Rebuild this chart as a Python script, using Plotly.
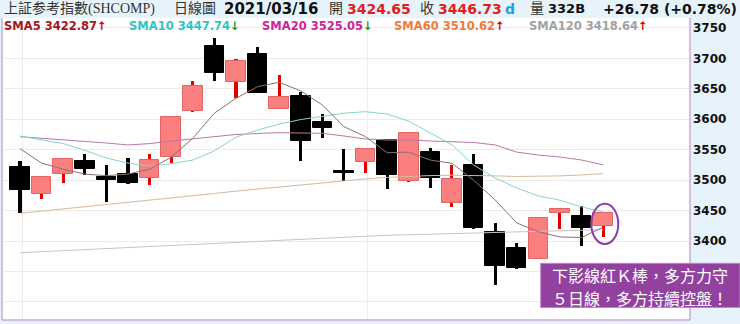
import plotly.graph_objects as go

# ---------------- data ----------------
idx = list(range(28))
opens = [3521, 3477, 3510, 3531.5, 3505, 3509.6, 3504, 3538.6, 3613, 3721,
         3661.8, 3707, 3617.4, 3638.8, 3595.5, 3515.5, 3530.3, 3566.5, 3499, 3546.3,
         3463, 3525, 3414.3, 3389, 3370, 3446.5, 3441, 3424.65]
highs = [3531.5, 3507, 3536.4, 3543.5, 3525, 3536.4, 3542.5, 3604.3, 3663.5, 3733,
         3699.6, 3718, 3672.8, 3645.4, 3608.2, 3550.7, 3552.3, 3567, 3578, 3552.3,
         3525, 3543, 3429, 3396, 3437.3, 3453.7, 3457.5, 3448]
lows = [3445.5, 3469, 3495, 3508, 3464.6, 3493, 3491.5, 3528.7, 3612, 3663.5,
        3634.4, 3643, 3617, 3531.5, 3568.8, 3499, 3512.2, 3485, 3497.5, 3486.6,
        3456.4, 3420, 3327.7, 3354, 3370, 3419.2, 3392.3, 3406]
closes = [3483, 3505.7, 3534.3, 3517.8, 3501, 3495.8, 3533, 3603, 3654.7, 3675.5,
          3695.8, 3643.7, 3636.6, 3564.3, 3585.2, 3511, 3551.7, 3508, 3577, 3504,
          3502, 3421, 3359.4, 3356, 3437.3, 3453, 3421, 3446.73]

sma5 = [3551.7, 3528, 3518, 3510, 3507.3, 3510, 3518, 3537.5, 3568.8, 3610,
        3634.5, 3653.6, 3660.8, 3646.5, 3623.5, 3587.8, 3571.4, 3545, 3546, 3533,
        3527.6, 3500, 3467.4, 3429.6, 3415.3, 3406.6, 3405.8, 3422.87]
sma10 = [3572.5, 3566, 3560, 3549, 3536.4, 3528, 3523, 3527, 3533, 3548,
         3570.7, 3582.4, 3592, 3599.6, 3604.5, 3610, 3612.5, 3608.6, 3597, 3577.5,
         3558, 3525, 3503.5, 3487, 3474, 3467, 3456, 3447.74]
sma20 = [3571.4, 3569, 3567, 3564.3, 3561, 3557.8, 3560, 3564.3, 3567.6, 3571.7,
         3575, 3576.6, 3578, 3577.5, 3577, 3572.5, 3567.6, 3566, 3566, 3564.3,
         3562.7, 3561.9, 3557.8, 3546, 3541.3, 3538, 3533, 3525.05]
sma60 = [3445.5, 3449, 3452.5, 3456, 3459.5, 3463, 3466.5, 3470, 3474, 3478,
         3482, 3485.5, 3489, 3492.5, 3496, 3499, 3502, 3504.5, 3506.5, 3507.5,
         3508, 3508, 3507, 3506, 3506, 3507, 3508.5, 3510.62]
sma120 = [3380.8, 3382.5, 3384.3, 3386, 3387.7, 3389.5, 3391.2, 3392.9, 3394.6, 3396.4,
          3398.1, 3399.8, 3401.6, 3403.3, 3405, 3406.8, 3408.5, 3409.4, 3410.3, 3411.2,
          3412.2, 3413.1, 3414, 3414.9, 3415.8, 3416.8, 3417.7, 3418.64]

ytick_vals = [3300, 3350, 3400, 3450, 3500, 3550, 3600, 3650, 3700, 3750]
ytick_text = ["", "", "3400", "3450", "3500", "3550", "3600", "3650", "3700", "3750"]

comment_lines = ["下影線紅Ｋ棒，多方力守", "５日線，多方持續控盤！"]

# ---------------- figure ----------------
W, H = 740, 324
ML, MR, MT, MB = 2, 50, 18, 4
PW, PH = W - ML - MR, H - MT - MB


def px(x):
    return (x - ML) / PW


def py(y):
    return (H - MB - y) / PH


up = [c >= o for o, c in zip(opens, closes)]
wick_colors = ["#E00000" if u else "#000000" for u in up]
body_colors = ["#FA7F7F" if u else "#000000" for u in up]
body_lines = ["#E46464" if u else "#000000" for u in up]

fig = go.Figure()
fig.add_bar(x=idx, y=[h - l for h, l in zip(highs, lows)], base=lows, width=0.14,
            marker=dict(color=wick_colors, line=dict(width=0)), hoverinfo="skip")
fig.add_bar(x=idx, y=[abs(c - o) for o, c in zip(opens, closes)],
            base=[min(o, c) for o, c in zip(opens, closes)], width=0.9,
            marker=dict(color=body_colors, line=dict(color=body_lines, width=1)),
            hoverinfo="skip")

for vals, col in [(sma120, "#C4C4C4"), (sma60, "#D9B99B"), (sma20, "#B878A8"),
                  (sma10, "#86D3CF"), (sma5, "#8E7070")]:
    fig.add_scatter(x=idx, y=vals, mode="lines", line=dict(color=col, width=1),
                    hoverinfo="skip")

BLUE_BG = "#E7F3FB"
BORDER = "#CBAAD9"

shapes = [
    dict(type="line", xref="paper", yref="paper", x0=0, x1=0, y0=0, y1=1,
         line=dict(color=BORDER, width=1.5)),
    dict(type="line", xref="paper", yref="paper", x0=1, x1=1, y0=0, y1=1,
         line=dict(color=BORDER, width=1.5)),
    dict(type="line", xref="paper", yref="paper", x0=0, x1=1, y0=0, y1=0,
         line=dict(color=BORDER, width=1.5)),
    # highlight ellipse around last candle
    dict(type="circle", xref="x", yref="y", x0=idx[-1] - 0.55, x1=idx[-1] + 0.7,
         y0=lows[-1] - 11, y1=highs[-1] + 13, line=dict(color="#8A3FA6", width=2)),
    # comment box
    dict(type="rect", xref="paper", yref="paper", x0=px(540.7), x1=px(740),
         y0=py(307.5), y1=py(263.3), fillcolor="#93419F",
         line=dict(color="#B88BC6", width=1), layer="above"),
]

anns = []
SANS_B = "DejaVu Sans"
SERIF = "Liberation Serif, Noto Sans CJK TC"


def txt(x, y, text, size, color, family, bold=False):
    t = f"<b>{text}</b>" if bold else text
    anns.append(dict(x=px(x), y=py(y), xref="paper", yref="paper", text=t,
                     showarrow=False, xanchor="left", yanchor="middle",
                     font=dict(size=size, color=color, family=family)))


# header row
txt(2, 9, "上証参考指數(SHCOMP)", 14, "#333333", SERIF)
txt(172, 9, "日線圖", 14, "#333333", SERIF)
txt(222, 9, "2021/03/16", 15, "#111111", SANS_B, True)
txt(327, 9, "開", 14, "#333333", SERIF)
txt(345, 9, "3424.65", 14, "#E02020", SANS_B, True)
txt(418, 9, "收", 14, "#333333", SERIF)
txt(436, 9, "3446.73", 14, "#E02020", SANS_B, True)
txt(503, 9, "d", 14, "#1FA3DD", SANS_B, True)
txt(528, 9, "量", 14, "#333333", SERIF)
txt(546, 9, "332B", 13, "#111111", SANS_B, True)
txt(601, 9, "+26.78 (+0.78%)", 14, "#111111", SANS_B, True)

# SMA legend row
UP = "<span style='color:#E00000'>↑</span>"
DN = "<span style='color:#169A16'>↓</span>"
txt(2, 26, f"<b>SMA5 3422.87{UP}</b>", 11.5, "#A3161C", SANS_B)
txt(127, 26, f"<b>SMA10 3447.74{DN}</b>", 11.5, "#33C3C3", SANS_B)
txt(260, 26, f"<b>SMA20 3525.05{DN}</b>", 11.5, "#D0229C", SANS_B)
txt(392, 26, f"<b>SMA60 3510.62{UP}</b>", 11.5, "#EE7A3E", SANS_B)
txt(527, 26, f"<b>SMA120 3418.64{UP}</b>", 11.5, "#A2A2A2", SANS_B)

# comment text (two lines)
for line_text, ly in zip(comment_lines, [274.5, 297.5]):
    anns.append(dict(x=px(640.4), y=py(ly), xref="paper", yref="paper",
                     text=line_text, showarrow=False, xanchor="center",
                     yanchor="middle", borderpad=0,
                     font=dict(size=16, color="#FFFFFF", family="Noto Sans CJK TC")))

fig.update_layout(
    width=W, height=H, autosize=False,
    margin=dict(l=ML, r=MR, t=MT, b=MB),
    paper_bgcolor=BLUE_BG, plot_bgcolor="#FFFFFF",
    barmode="overlay", bargap=0, showlegend=False,
    shapes=shapes, annotations=anns,
    xaxis=dict(range=[-0.833, 31.02], tickvals=[0.1, 16.1], showticklabels=False,
               showgrid=True, gridcolor="#EDEDED", zeroline=False, ticks="",
               fixedrange=True),
    yaxis=dict(range=[3270.2, 3766.4], side="right", tickvals=ytick_vals,
               ticktext=ytick_text, showgrid=True, gridcolor="#ECECEC",
               zeroline=False, ticks="", ticklabelstandoff=2,
               tickfont=dict(family=SANS_B, size=12, color="#111111", weight="bold"),
               fixedrange=True),
)

fig.write_html("out.html")
